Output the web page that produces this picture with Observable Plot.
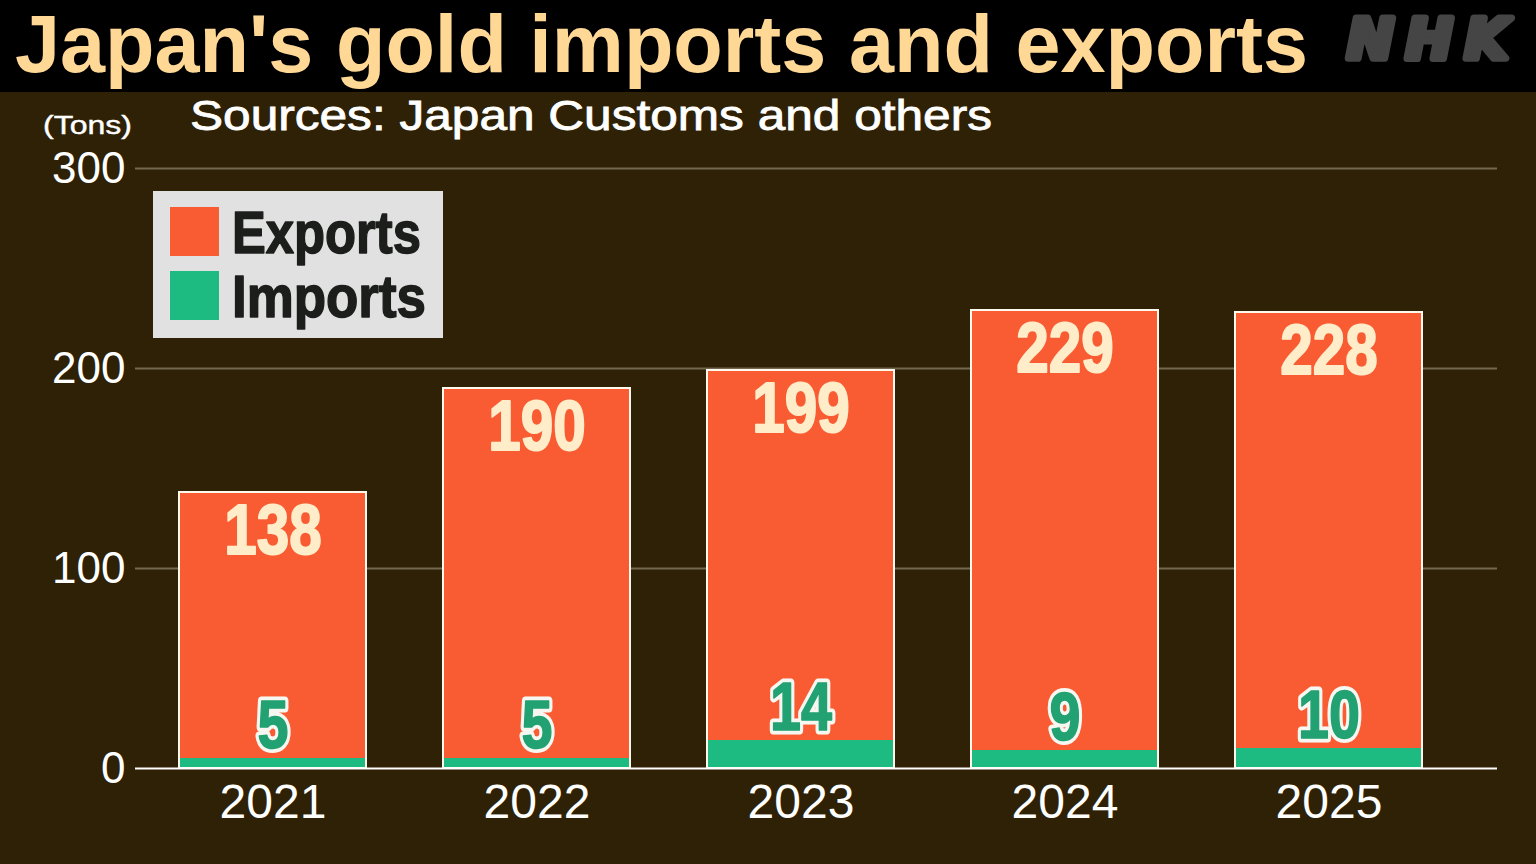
<!DOCTYPE html>
<html><head><meta charset="utf-8">
<script src="https://cdn.jsdelivr.net/npm/d3@7"></script>
<script src="https://cdn.jsdelivr.net/npm/@observablehq/plot@0.6"></script>
<style>
html,body{margin:0;padding:0;background:#2e2106;}
#page{position:relative;width:1536px;height:864px;overflow:hidden;background:#2e2106;}
#header{display:block;width:1536px;height:92px;background:#000;}
#chart svg{display:block}
#overlay{position:absolute;left:0;top:0;pointer-events:none}
</style></head><body>
<div id="page">
  <svg id="header" width="1536" height="92"></svg>
  <div id="chart"></div>
  <svg id="overlay" width="1536" height="864"></svg>
</div>
<script>
// ---- data ----
const titleText = "Japan's gold imports and exports";
const sourceText = "Sources: Japan Customs and others";
const unitText = "(Tons)";
const logoText = "NHK";
const years = ["2021", "2022", "2023", "2024", "2025"];
const exportTons = [138, 190, 199, 229, 228];
const importTons = [5, 5, 14, 9, 10];
const seriesNames = ["Exports", "Imports"];
const seriesColors = ["#f95c33", "#1dba82"];
const yTicks = [0, 100, 200, 300];

const sans = "'Liberation Sans', Arial, sans-serif";
const data = years.map((year, i) => ({year, exports: exportTons[i], imports: importTons[i]}));

// ---- header ----
const header = d3.select("#header");
header.append("text")
  .attr("x", 15).attr("y", 72)
  .attr("font-family", sans)
  .attr("font-weight", "bold").attr("font-size", 81)
  .attr("fill", "#ffd896")
  .text(titleText);
header.append("text")
  .attr("x", 1347).attr("y", 58)
  .attr("font-family", "'DejaVu Sans', sans-serif")
  .attr("font-weight", "bold").attr("font-style", "italic")
  .attr("font-size", 56).attr("letter-spacing", 12)
  .attr("fill", "#454545").attr("stroke", "#454545")
  .attr("stroke-width", 7).attr("stroke-linejoin", "round")
  .text(logoText);

// ---- chart ----
const chart = Plot.plot({
  width: 1536, height: 772,
  marginTop: 76, marginBottom: 96, marginLeft: 135, marginRight: 39,
  style: {background: "transparent", color: "white", fontFamily: sans, overflow: "visible"},
  x: {domain: years, paddingInner: 0.29, paddingOuter: 0.223, align: 0.373, label: null},
  y: {domain: [0, 300], label: null},
  marks: [
    Plot.gridY(yTicks.filter(t => t > 0), {stroke: "#72684f", strokeOpacity: 1, strokeWidth: 2}),
    Plot.barY(data, {x: "year", y: "exports", fill: seriesColors[0]}),
    Plot.barY(data, {x: "year", y: "imports", fill: seriesColors[1]}),
    Plot.barY(data, {x: "year", y: "exports", fill: "none", stroke: "#fff8ec", strokeWidth: 2}),
    Plot.ruleY([0], {stroke: "white", strokeWidth: 2}),
    Plot.axisY(yTicks, {tickSize: 0, tickPadding: 10, fontSize: 44, label: null, fill: "white"}),
    Plot.axisX({tickSize: 0, tickPadding: 15, fontSize: 48, label: null, fill: "white"}),
    Plot.text(data, {x: "year", y: "exports", text: d => `${d.exports}`, lineAnchor: "top", dy: 12,
      fontSize: 70, fontWeight: "bold", fontFamily: sans, fill: "#ffedca", className: "explabel",
      stroke: "#ffedca", strokeWidth: 2, strokeLinejoin: "round"}),
    Plot.text(data, {x: "year", y: "imports", text: d => `${d.imports}`, lineAnchor: "top", dy: -59,
      fontSize: 68, fontWeight: "bold", fontFamily: sans, fill: "#f7f7f2", className: "implabel",
      stroke: "#f7f7f2", strokeWidth: 9, strokeLinejoin: "round"}),
    Plot.text(data, {x: "year", y: "imports", text: d => `${d.imports}`, lineAnchor: "top", dy: -59,
      fontSize: 68, fontWeight: "bold", fontFamily: sans, fill: "#22a172", className: "implabel",
      stroke: "#22a172", strokeWidth: 1.5, strokeLinejoin: "round"})
  ]
});
document.getElementById("chart").appendChild(chart);
// condense the bold label glyphs (narrow bold look)
d3.select(chart).selectAll(".explabel text").each(function() {
  const n = this.textContent.length;
  d3.select(this).attr("textLength", n * 32.5).attr("lengthAdjust", "spacingAndGlyphs");
});
d3.select(chart).selectAll(".implabel text").each(function() {
  const n = this.textContent.length;
  d3.select(this).attr("textLength", n * 31).attr("lengthAdjust", "spacingAndGlyphs");
});

// ---- overlay texts & legend ----
const ov = d3.select("#overlay");
ov.append("text")
  .attr("x", 190).attr("y", 130)
  .attr("font-family", sans).attr("font-size", 42)
  .attr("fill", "white").attr("stroke", "white").attr("stroke-width", 0.8)
  .attr("textLength", 802).attr("lengthAdjust", "spacingAndGlyphs")
  .text(sourceText);
ov.append("text")
  .attr("x", 43).attr("y", 134)
  .attr("font-family", sans).attr("font-size", 25)
  .attr("fill", "white").attr("stroke", "white").attr("stroke-width", 0.4)
  .attr("textLength", 89).attr("lengthAdjust", "spacingAndGlyphs")
  .text(unitText);

const legendWidths = [189, 194];
const lg = ov.append("g");
lg.append("rect").attr("x", 153).attr("y", 191).attr("width", 290).attr("height", 147).attr("fill", "#e1e1e1");
const items = lg.selectAll("g.item").data(seriesNames.map((name, i) => ({name, color: seriesColors[i], i})))
  .join("g").attr("class", "item")
  .attr("transform", d => `translate(0,${d.i * 64})`);
items.append("rect").attr("x", 170).attr("y", 207).attr("width", 49).attr("height", 49).attr("fill", d => d.color);
items.append("text").attr("x", 232).attr("y", 253)
  .attr("font-family", sans).attr("font-weight", "bold").attr("font-size", 59)
  .attr("stroke", "#1c1e1b").attr("stroke-width", 1.5).attr("stroke-linejoin", "round")
  .attr("textLength", d => legendWidths[d.i]).attr("lengthAdjust", "spacingAndGlyphs")
  .attr("fill", "#1c1e1b").text(d => d.name);
</script>
</body></html>
